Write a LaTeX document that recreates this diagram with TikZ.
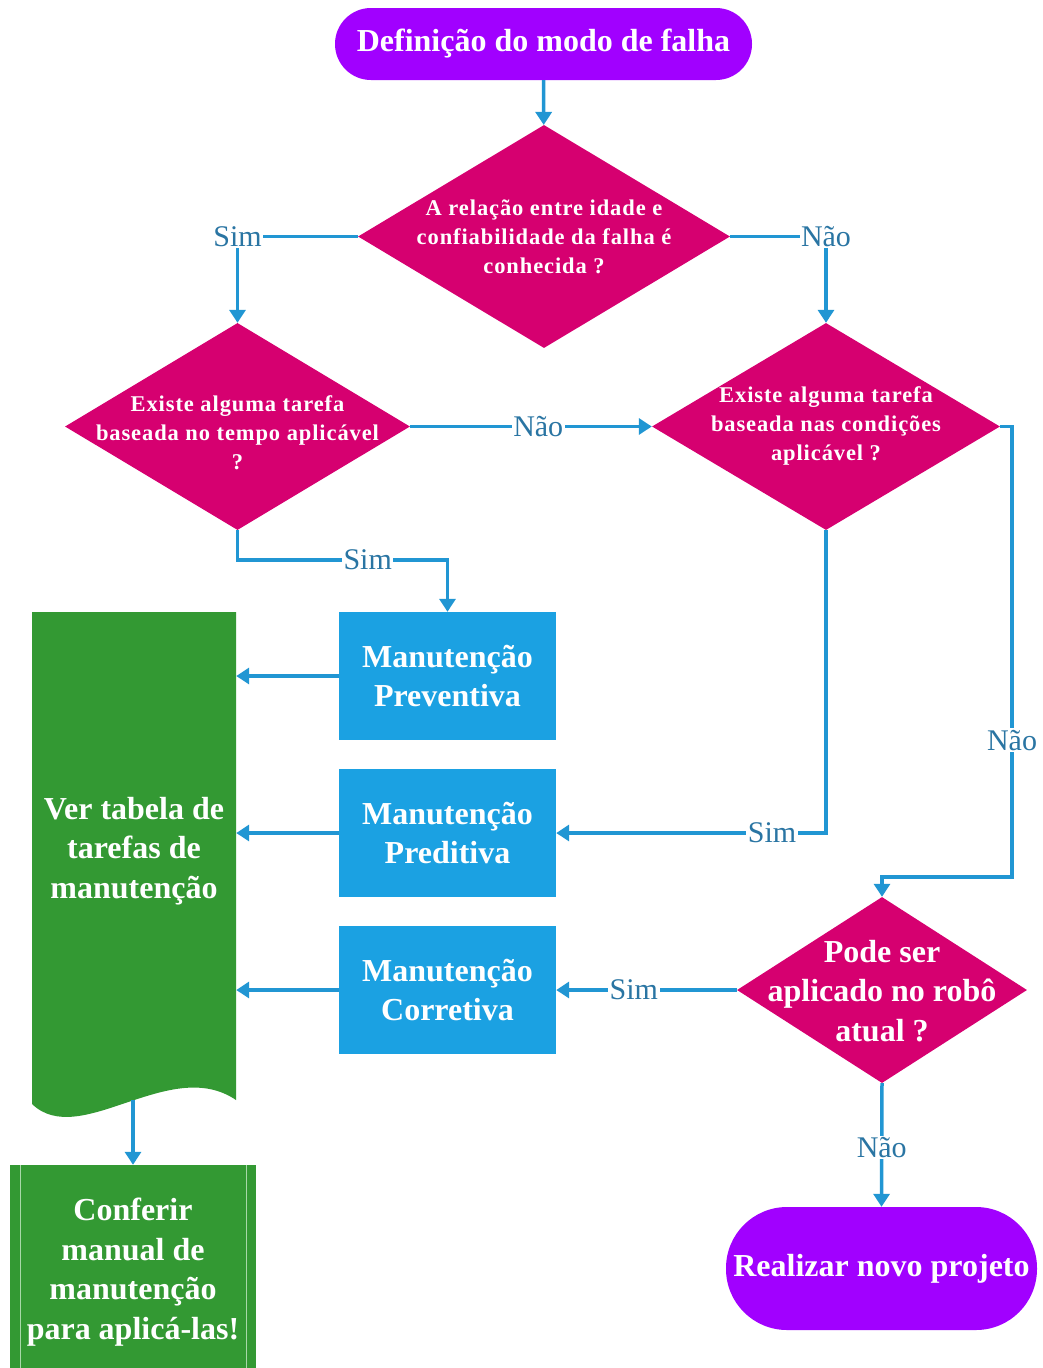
\documentclass[tikz,border=0pt]{standalone}
\usepackage{fontspec}
\setmainfont{Liberation Serif}
\usetikzlibrary{arrows.meta,shapes.geometric,calc}

\definecolor{termc}{HTML}{A100FF}
\definecolor{decc}{HTML}{D60070}
\definecolor{procc}{HTML}{1BA1E2}
\definecolor{docc}{HTML}{339933}
\definecolor{linec}{HTML}{2196D3}
\definecolor{lblc}{HTML}{2A75A3}
\definecolor{prelinec}{HTML}{A8D8A8}

\newcommand{\bigtxt}{\bfseries\fontsize{32}{39.5}\selectfont}
\newcommand{\smalltxt}{\bfseries\fontsize{22.5}{29}\selectfont\addfontfeature{LetterSpace=4}}

\begin{document}
\begin{tikzpicture}[x=1pt,y=-1pt,
  term/.style={rectangle, fill=termc, text=white, font=\bigtxt, inner sep=0pt},
  decision/.style={diamond, fill=decc, inner sep=0pt},
  dtext/.style={text=white, align=center, inner sep=0pt},
  proc/.style={rectangle, fill=procc, text=white, font=\bigtxt, align=center,
    minimum width=217pt, minimum height=128pt, inner sep=0pt},
  arr/.style={draw=linec, line width=3.5pt, -{Triangle[length=13pt,width=16pt]}},
  lbl/.style={fill=white, text=lblc, font=\fontsize{30}{30}\selectfont, inner sep=1.5pt},
]
\useasboundingbox (0,0) rectangle (1043,1368);

% terminals
\node[term, minimum width=417pt, minimum height=72pt, rounded corners=35.9pt]
  (start) at (543.5,44) {Definição do modo de falha};
\node[term, minimum width=311pt, minimum height=123pt, rounded corners=61pt]
  (newproj) at (881.5,1268.5) {Realizar novo projeto};

% decisions
\node[decision, minimum width=372pt, minimum height=223pt] (d1) at (544,236.5) {};
\node[dtext, font=\smalltxt] (d1t) at (544,236.5)
  {A relação entre idade e\\confiabilidade da falha é\\conhecida ?};
\node[decision, minimum width=345pt, minimum height=207pt] (d2) at (237.5,426.5) {};
\node[dtext, font=\smalltxt] (d2t) at (237.5,433)
  {Existe alguma tarefa\\baseada no tempo aplicável\\?};
\node[decision, minimum width=348pt, minimum height=207pt] (d3) at (826,426.5) {};
\node[dtext, font=\smalltxt] (d3t) at (826,426)
  {Existe alguma tarefa\\baseada nas condições\\aplicável ?};
\node[decision, minimum width=290pt, minimum height=186pt] (d4) at (882,990) {};
\node[dtext, font=\bigtxt] (d4t) at (882,991)
  {Pode ser\\aplicado no robô\\atual ?};

% maintenance types
\node[proc] (prev) at (447.5,676) {Manutenção\\Preventiva};
\node[proc] (pred) at (447.5,833) {Manutenção\\Preditiva};
\node[proc] (corr) at (447.5,990) {Manutenção\\Corretiva};

% document: task table
\fill[docc] (32,612) -- (236,612) -- (236,1100)
  .. controls (170,1055) and (80,1150) .. (32,1104) -- cycle;
\node[text=white, font=\bigtxt, align=center, minimum width=204pt,
  minimum height=472pt, inner sep=0pt] (doc) at (134,851)
  {Ver tabela de\\tarefas de\\manutenção};
\coordinate (docbot) at (133,1100);

% predefined process: manual
\node[rectangle, fill=docc, minimum width=246pt, minimum height=203pt,
  inner sep=0pt] (manual) at (133,1266.5) {};
\node[text=white, font=\bigtxt, align=center, inner sep=0pt] (manualt)
  at (133,1272) {Conferir\\manual de\\manutenção\\para aplicá-las!};
\draw[prelinec, line width=1pt] ($(manual.north west)+(11,0)$) -- ($(manual.south west)+(11,0)$);
\draw[prelinec, line width=1pt] ($(manual.north east)+(-10,0)$) -- ($(manual.south east)+(-10,0)$);

% connectors
\coordinate (bend) at (1012,877);
\draw[arr] (start) -- (d1);
\draw[arr] (d1.west) -| node[lbl, pos=0.5] {Sim} (d2.north);
\draw[arr] (d1.east) -| node[lbl, pos=0.5] {Não} (d3.north);
\draw[arr] (d2.east) -- node[lbl, pos=0.53] {Não} (d3.west);
\draw[arr] (d2.south) -- ++(0,30) -| node[lbl, pos=0.31] {Sim} (prev.north);
\draw[arr] (d3.south) |- node[lbl, pos=0.6] {Sim} (pred.east);
\draw[arr] (d3.east) -| node[lbl, pos=0.848] {Não} (bend) -| (d4.north);
\draw[arr] (d4.west) -- node[lbl, pos=0.57] {Sim} (corr.east);
\draw[arr] (d4.south) -- node[lbl, pos=0.52] {Não} (newproj.north);
\draw[arr] (prev.west) -- (prev.west -| doc.east);
\draw[arr] (pred.west) -- (pred.west -| doc.east);
\draw[arr] (corr.west) -- (corr.west -| doc.east);
\draw[arr] (docbot) -- (manual.north);
\end{tikzpicture}
\end{document}
